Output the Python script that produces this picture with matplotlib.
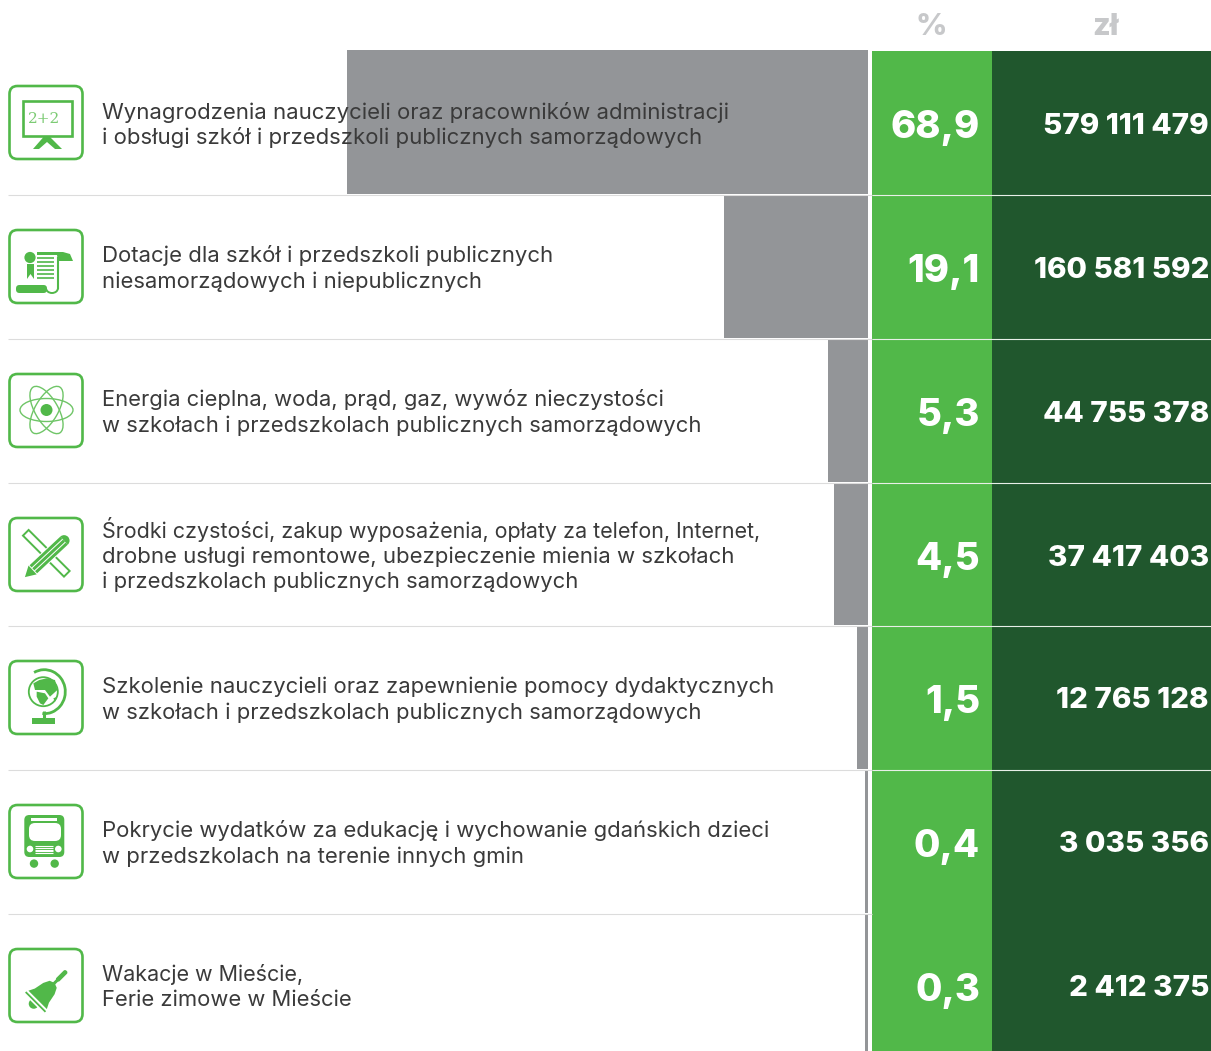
import numpy as np
import matplotlib
matplotlib.use("Agg")
import matplotlib.pyplot as plt
from matplotlib.patches import Rectangle, FancyBboxPatch, Circle, Ellipse, Polygon, Arc, Wedge
from matplotlib.transforms import Affine2D

# ---------- data ----------
labels = [
    ["Wynagrodzenia nauczycieli oraz pracowników administracji",
     "i obsługi szkół i przedszkoli publicznych samorządowych"],
    ["Dotacje dla szkół i przedszkoli publicznych",
     "niesamorządowych i niepublicznych"],
    ["Energia cieplna, woda, prąd, gaz, wywóz nieczystości",
     "w szkołach i przedszkolach publicznych samorządowych"],
    ["Środki czystości, zakup wyposażenia, opłaty za telefon, Internet,",
     "drobne usługi remontowe, ubezpieczenie mienia w szkołach",
     "i przedszkolach publicznych samorządowych"],
    ["Szkolenie nauczycieli oraz zapewnienie pomocy dydaktycznych",
     "w szkołach i przedszkolach publicznych samorządowych"],
    ["Pokrycie wydatków za edukację i wychowanie gdańskich dzieci",
     "w przedszkolach na terenie innych gmin"],
    ["Wakacje w Mieście,",
     "Ferie zimowe w Mieście"],
]
percent = [68.9, 19.1, 5.3, 4.5, 1.5, 0.4, 0.3]
amounts = [579111479, 160581592, 44755378, 37417403, 12765128, 3035356, 2412375]
col_headers = ["%", "zł"]

# ---------- style ----------
GREEN = "#51b849"
DARK = "#20572d"
GREY = "#939598"
HEAD = "#c7c8ca"
SEP = "#dcdcdc"
TXT = "#3a3a3a"
FONT = "Inter"
# right edge of each label line in the layout, used to fit the substitute font
line_ends = [[730, 703], [554, 482], [664, 701], [762, 736, 578], [774, 701], [770, 524], [304, 352]]

W, H = 1211, 1051
fig = plt.figure(figsize=(W / 100, H / 100), dpi=100)
ax = fig.add_axes([0, 0, 1, 1])
ax.set_xlim(0, W)
ax.set_ylim(H, 0)
ax.axis("off")

row_top = [51, 195, 339, 483, 626, 770, 914]
row_bot = [194, 338, 482, 625, 769, 913, 1051]
BAR_RIGHT = 868
PX_PER_PCT = 7.56
COL_SPLIT = 991.6


def fmt_amount(v):
    return f"{v:,}".replace(",", " ")


# columns
ax.add_patch(Rectangle((872, 51), COL_SPLIT - 872, H - 51, fc=GREEN, ec="none", zorder=1))
ax.add_patch(Rectangle((COL_SPLIT, 51), W - COL_SPLIT, H - 51, fc=DARK, ec="none", zorder=1))

# bars
for i, p in enumerate(percent):
    w = max(p * PX_PER_PCT, 3)
    top = row_top[i] - (1 if i == 0 else 0)
    ax.barh((top + row_bot[i]) / 2, w, height=row_bot[i] - top, left=BAR_RIGHT - w,
            color=GREY, zorder=1)

# separators
for y in row_top[1:]:
    ax.plot([8, 872], [y - 0.5, y - 0.5], color=SEP, lw=0.8, zorder=3, solid_capstyle="butt")
    if y < 900:
        ax.plot([872, W], [y - 0.5, y - 0.5], color="#e8efe8", lw=0.8, zorder=3, solid_capstyle="butt")

# text
ax.text(931.5, 27, col_headers[0], color=HEAD, fontsize=22, fontweight="heavy", family=FONT,
        ha="center", va="center")
ax.text(1105, 27, col_headers[1], color=HEAD, fontsize=22, fontweight="heavy", family=FONT,
        ha="center", va="center")

centres = [128, 272, 416, 560, 703, 847, 991]
amount_c = [127, 270, 414, 558, 701, 845, 989]
label_c = [124.5, 268, 412, 556, 699, 843, 986.5]
LINE_STEP = 25.5
renderer = fig.canvas.get_renderer()
for i in range(7):
    n = len(labels[i])
    for k, line in enumerate(labels[i]):
        base = label_c[i] + (k - (n - 1) / 2) * LINE_STEP + 7
        t = ax.text(102, base, line, color=TXT, fontsize=16, family=FONT, fontweight="normal",
                    ha="left", va="baseline", zorder=4)
        width = t.get_window_extent(renderer).width
        t.set_fontsize(16 * (line_ends[i][k] - 102) / width)
    ax.text(980, centres[i], f"{percent[i]:.1f}".replace(".", ","), color="white", fontsize=27.5,
            fontweight="heavy", family=FONT, ha="right", va="center", zorder=4)
    ax.text(1209, amount_c[i], fmt_amount(amounts[i]), color="white", fontsize=21.3,
            fontweight="heavy", family=FONT, ha="right", va="center", zorder=4)

# ---------- icons ----------
box_top = [86, 230, 374, 518, 661, 805, 949]
for t in box_top:
    ax.add_patch(FancyBboxPatch((9.5, t), 73, 73, boxstyle="round,pad=0,rounding_size=8",
                                fc="white", ec=GREEN, lw=1.9, zorder=3))


def P(pts, fc=GREEN, z=4, **kw):
    ax.add_patch(Polygon(pts, closed=True, fc=fc, ec="none", zorder=z, **kw))


# 1 board
ax.add_patch(Rectangle((22.5, 101), 49, 34.5, fc="white", ec=GREEN, lw=1.9, zorder=4))
ax.text(44, 119, "2+2", color="#7ccb74", fontsize=11, family="DejaVu Serif", ha="center",
        va="center", zorder=5)
P([(33, 149), (43.5, 137), (50, 137), (62, 149), (55, 149), (47, 142), (39, 149)])
P([(43, 136), (51, 136), (47, 142)])

# 2 scroll
ax.add_patch(Circle((30, 257.5), 5.6, fc=GREEN, ec="none", zorder=4))
P([(27, 264), (34, 264), (34, 279), (30.5, 274), (27, 279)])
P([(37, 252), (63, 252), (70, 254), (73, 261), (58, 261), (57, 255), (37, 255)])
for yy in [258, 262, 266, 270, 274, 277.5]:
    ax.plot([37, 54], [yy, yy], color=GREEN, lw=1.2, zorder=4, solid_capstyle="butt")
ax.plot([58, 58], [258, 288], color=GREEN, lw=1.5, zorder=4)
ax.add_patch(FancyBboxPatch((16, 285), 31, 8, boxstyle="round,pad=0,rounding_size=3.5",
                            fc=GREEN, ec="none", zorder=4))
ax.add_patch(Arc((52, 288), 12, 10, theta1=0, theta2=180, ec=GREEN, lw=1.4, zorder=4))

# 3 atom
cx, cy = 46.5, 410
for a in (0, 60, 120):
    ax.add_patch(Ellipse((cx, cy), 53, 23, angle=a, fc="none", ec="#6fc567", lw=1.0, zorder=4))
ax.add_patch(Circle((cx, cy), 6, fc=GREEN, ec="none", zorder=5))

# 4 pencil + ruler
ruler = Rectangle((-29, -4), 58, 8, fc="white", ec=GREEN, lw=1.4, zorder=4,
                  transform=Affine2D().rotate_deg(45).translate(46.3, 553.3) + ax.transData)
ax.add_patch(ruler)
pencil_t = Affine2D().rotate_deg(-43).translate(46.5, 557) + ax.transData
ax.add_patch(Polygon([(-29.5, 0), (-19, -6), (-19, 6)], closed=True, fc=GREEN, ec="none",
                     zorder=5, transform=pencil_t))
ax.add_patch(Rectangle((-18, -6.5), 42, 13, fc="white", ec="none", zorder=5, transform=pencil_t))
for off, hh in ((-5.5, 3.0), (-1.5, 3.0), (2.5, 3.0)):
    ax.add_patch(Rectangle((-18, off), 42, hh, fc=GREEN, ec="none", zorder=5, transform=pencil_t))
ax.add_patch(Wedge((24, 0), 5.5, -90, 90, fc=GREEN, ec="none", zorder=5, transform=pencil_t))

# 5 globe
gx, gy = 43.3, 691.7
ax.add_patch(Circle((gx, gy), 14.5, fc="white", ec=GREEN, lw=1.3, zorder=4))
asia = [(100, 130), (118, 120), (140, 115), (165, 120), (172, 150), (150, 170), (135, 150), (105, 150)]
africa = [(110, 155), (135, 160), (145, 175), (130, 195), (120, 190), (110, 170)]
aus = [(160, 175), (172, 170), (165, 185)]
for shape in (asia, africa, aus):
    P([(x / 3, 640 + y / 3) for x, y in shape], z=5)
ax.add_patch(Arc((gx + 1, gy), 42, 44, theta1=-118, theta2=95, ec=GREEN, lw=2.0, zorder=4))
ax.plot([43.5, 43.5], [711, 719], color=GREEN, lw=2.2, zorder=4, solid_capstyle="butt")
ax.add_patch(Rectangle((32, 718), 23, 6, fc=GREEN, ec="none", zorder=4))

# 6 bus
ax.add_patch(Circle((34, 863.6), 4.2, fc=GREEN, ec="none", zorder=4))
ax.add_patch(Circle((54.7, 863.6), 4.2, fc=GREEN, ec="none", zorder=4))
ax.add_patch(FancyBboxPatch((24.3, 815), 40, 42, boxstyle="round,pad=0,rounding_size=5",
                            fc=GREEN, ec="none", zorder=4))
ax.add_patch(Rectangle((31, 818), 26, 2.5, fc="white", ec="none", zorder=5))
ax.add_patch(FancyBboxPatch((29, 823), 32, 18, boxstyle="round,pad=0,rounding_size=6",
                            fc="white", ec="none", zorder=5))
ax.add_patch(Circle((30, 849), 3.3, fc="white", ec="none", zorder=5))
ax.add_patch(Circle((58.3, 849), 3.3, fc="white", ec="none", zorder=5))
for yy in (846, 847.8, 849.6, 851.4, 853):
    ax.plot([35, 52.5], [yy, yy], color="white", lw=0.8, zorder=5, solid_capstyle="butt")

# 7 bell
bt = Affine2D().rotate_deg(45).translate(44.7, 992.8) + ax.transData
ax.add_patch(Polygon([(-13, 10), (-10, 4), (-8, -6), (-5, -12), (0, -14), (5, -12), (8, -6), (10, 4), (13, 10)],
                     closed=True, fc=GREEN, ec="none", zorder=4, transform=bt))
ax.add_patch(Rectangle((-14, 12), 28, 1.8, fc=GREEN, ec="none", zorder=4, transform=bt))
ax.add_patch(Wedge((0, 15.5), 5, 0, 180, fc=GREEN, ec="none", zorder=4, transform=bt))
ax.add_patch(FancyBboxPatch((-2.3, -31), 4.6, 14, boxstyle="round,pad=0,rounding_size=2",
                            fc=GREEN, ec="none", zorder=4, transform=bt))
ax.add_patch(Rectangle((-1.5, -18), 3, 5, fc=GREEN, ec="none", zorder=4, transform=bt))

fig.savefig("out.png", dpi=100, facecolor="white")
